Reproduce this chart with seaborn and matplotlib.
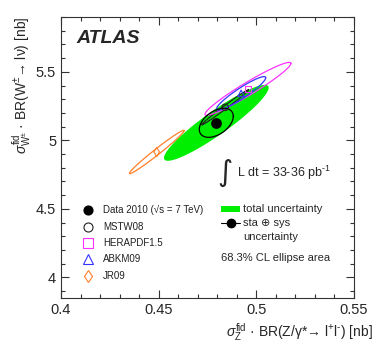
import numpy as np
import pandas as pd
import seaborn as sns
import matplotlib.pyplot as plt
from matplotlib.ticker import MultipleLocator
from matplotlib.lines import Line2D
from matplotlib.patches import Rectangle

sns.set_theme(style="ticks")
plt.rcParams['font.family'] = ['Liberation Sans', 'DejaVu Sans']
plt.rcParams['mathtext.fontset'] = 'custom'
plt.rcParams['mathtext.rm'] = 'Liberation Sans'
plt.rcParams['mathtext.it'] = 'Liberation Sans:italic'
plt.rcParams['mathtext.bf'] = 'Liberation Sans:bold'

# measurement: centre, half extents of the 68.3% CL ellipse, correlation
data_z, data_w = 0.4795, 5.128
tot_dz, tot_dw, tot_rho = 0.0268, 0.277, 0.925
sys_dz, sys_dw, sys_rho = 0.0087, 0.106, 0.45

# theory predictions (PDF sets)
pdf_names = ["MSTW08", "HERAPDF1.5", "ABKM09", "JR09"]
pdf_z = [0.4840, 0.4957, 0.4922, 0.4490]
pdf_w = [5.241, 5.376, 5.343, 4.915]
pdf_dz = [0.0120, 0.0220, 0.0126, 0.0140]
pdf_dw = [0.128, 0.193, 0.122, 0.158]
pdf_rho = [0.993, 0.96, 0.93, 0.985]
pdf_colors = ["#222222", "#ff33ff", "#3333ff", "#ff7f2a"]
pdf_markers = ["o", "s", "^", "d"]


def ellipse(cx, cy, dx, dy, rho, n=200):
    t = np.linspace(0, 2 * np.pi, n)
    x = cx + dx * np.cos(t)
    y = cy + dy * (rho * np.cos(t) + np.sqrt(1 - rho ** 2) * np.sin(t))
    return x, y


fig = plt.figure(figsize=(3.74, 3.55), dpi=100)
ax = fig.add_axes([61 / 374, 1 - 298 / 355, 293 / 374, 281 / 355])

# total uncertainty ellipse
ex, ey = ellipse(data_z, data_w, tot_dz, tot_dw, tot_rho)
ax.fill(ex, ey, color="#00ee00", lw=0, zorder=1)

# PDF prediction ellipses
for z, w, dz, dw, r, c in zip(pdf_z, pdf_w, pdf_dz, pdf_dw, pdf_rho, pdf_colors):
    ex, ey = ellipse(z, w, dz, dw, r)
    ax.plot(ex, ey, color=c, lw=0.9, zorder=2)

# sta+sys ellipse
ex, ey = ellipse(data_z, data_w, sys_dz, sys_dw, sys_rho)
ax.plot(ex, ey, color="black", lw=0.9, zorder=3)

# prediction markers (open)
preds = pd.DataFrame({"z": pdf_z, "w": pdf_w, "pdf": pdf_names})
for (_, row), mk, c in zip(preds.iterrows(), pdf_markers, pdf_colors):
    sns.scatterplot(x=[row.z], y=[row.w], marker=mk, s=22, facecolors="none",
                    edgecolor=c, linewidth=0.8, legend=False, ax=ax, zorder=4)
ax.scatter([data_z], [data_w], s=45, color="black", zorder=5)

ax.set_xlim(0.4, 0.55)
ax.set_ylim(3.85, 5.9)
ax.xaxis.set_minor_locator(MultipleLocator(0.01))
ax.yaxis.set_minor_locator(MultipleLocator(0.1))
ax.set_xticks([0.4, 0.45, 0.5, 0.55])
ax.set_xticklabels(["0.4", "0.45", "0.5", "0.55"])
ax.set_yticks([4, 4.5, 5, 5.5])
ax.set_yticklabels(["4", "4.5", "5", "5.5"])
ax.tick_params(which="both", direction="in", top=True, right=True,
               labelsize=10.5, width=0.8, color="#333333")
ax.tick_params(which="major", length=6)
ax.tick_params(which="minor", length=3)
for sp in ax.spines.values():
    sp.set_linewidth(0.8)
    sp.set_color("#333333")
ax.set_xlabel("")
ax.set_ylabel("")

fig.text(373 / 374, 1 - 332 / 355,
         r"$\sigma_{\mathrm{Z}}^{\mathrm{fid}}$ · BR(Z/γ*→ l$^{+}$l$^{\text{-}}$) [nb]",
         ha="right", va="center", fontsize=10)
fig.text(22 / 374, 1 - 17 / 355,
         r"$\sigma_{\mathrm{W^{\pm}}}^{\mathrm{fid}}$ · BR(W$^{\pm}$→ lν) [nb]",
         ha="center", va="top", rotation=90, fontsize=10)

ax.text(0.051, 0.922, "ATLAS", transform=ax.transAxes, fontsize=14,
        fontweight="bold", fontstyle="italic", va="center")
ax.text(0.56, 0.446, "∫", transform=ax.transAxes, fontsize=21,
        va="center", ha="center", family="DejaVu Sans")
ax.text(0.60, 0.446, r"L dt = 33-36 pb$^{\text{-1}}$", transform=ax.transAxes,
        fontsize=9, va="center")

# left legend
leg_y = [0.313, 0.254, 0.196, 0.139, 0.079]
leg_labels = ["Data 2010 (√s = 7 TeV)"] + pdf_names
leg_mk = ["o"] + pdf_markers
leg_col = ["black"] + pdf_colors
for yy, lab, mk, c in zip(leg_y, leg_labels, leg_mk, leg_col):
    fc = "black" if lab.startswith("Data") else "none"
    ax.plot([0.092], [yy], marker=mk, ms=6.5, mfc=fc, mec=c, mew=0.8,
            transform=ax.transAxes, clip_on=False)
    ax.text(0.143, yy, lab, transform=ax.transAxes, fontsize=7, va="center",
            color="#222222")

# right legend
ax.add_patch(Rectangle((0.546, 0.305), 0.065, 0.024, transform=ax.transAxes,
                       color="#00ee00", lw=0))
ax.text(0.621, 0.317, "total uncertainty", transform=ax.transAxes, fontsize=8,
        va="center")
ax.add_line(Line2D([0.546, 0.611], [0.268, 0.268], transform=ax.transAxes,
                   color="black", lw=0.8))
ax.plot([0.5785], [0.268], marker="o", ms=6, color="black", transform=ax.transAxes)
ax.text(0.621, 0.268, "sta ⊕ sys", transform=ax.transAxes, fontsize=8, va="center")
ax.text(0.621, 0.218, "uncertainty", transform=ax.transAxes, fontsize=8, va="center")
ax.text(0.546, 0.142, "68.3% CL ellipse area", transform=ax.transAxes, fontsize=8,
        va="center")

fig.savefig("out.png", dpi=100)
